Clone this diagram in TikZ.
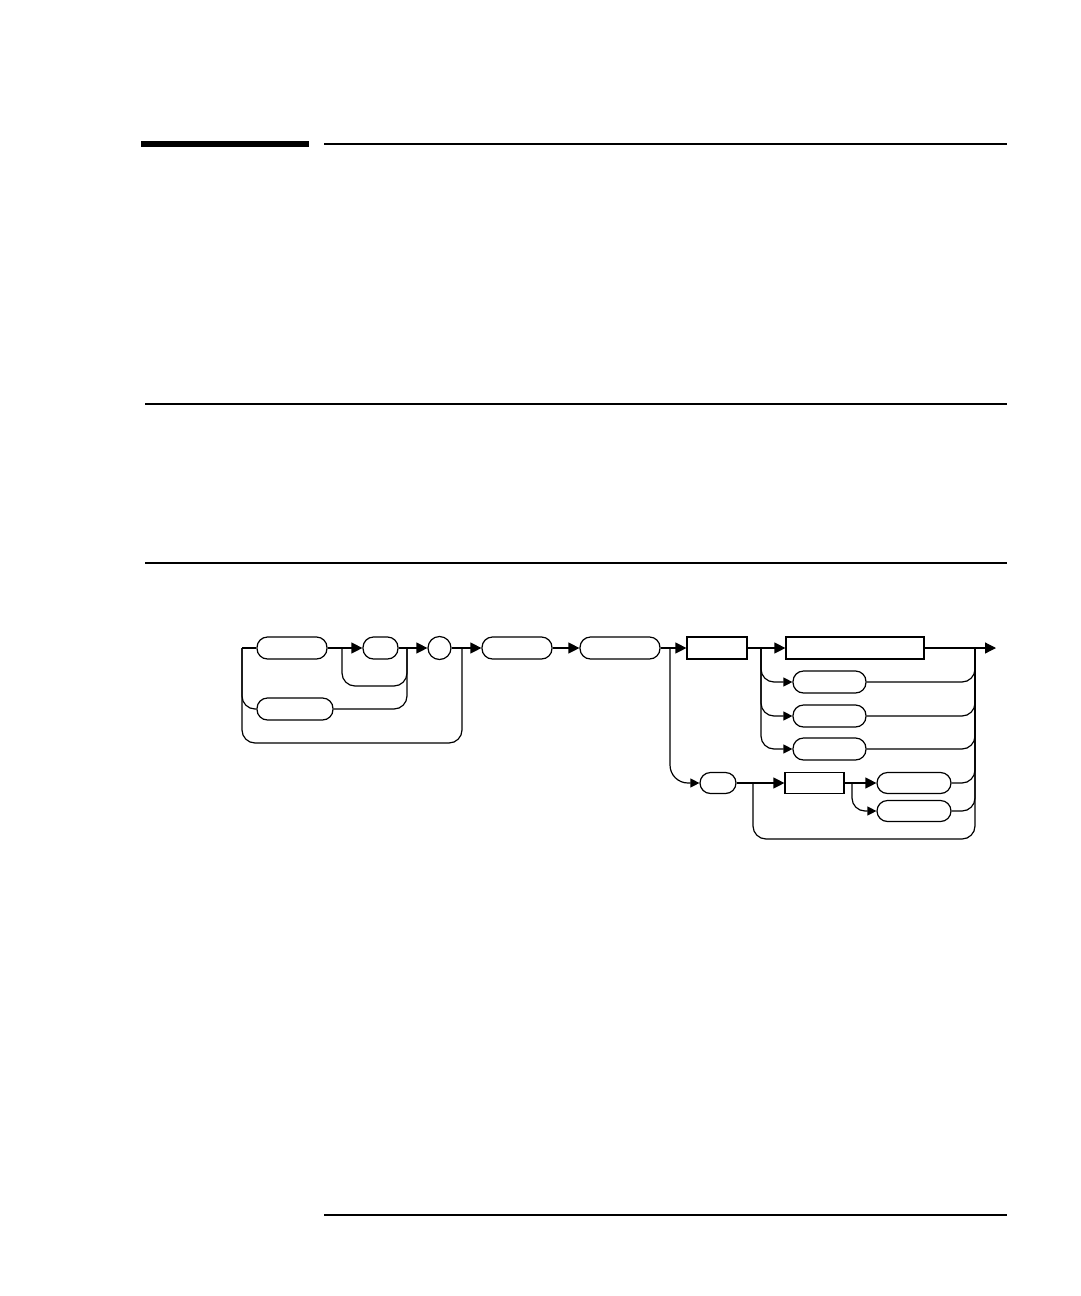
\documentclass[tikz,border=0pt]{standalone}
\usetikzlibrary{arrows.meta}
\begin{document}
\begin{tikzpicture}[x=1pt,y=-1pt,
  line width=1.2pt,
  rbox/.style={draw,rectangle,rounded corners=10.5pt,minimum height=22pt,inner sep=0pt},
  sbox/.style={draw,rectangle,minimum height=22pt,inner sep=0pt},
  cbox/.style={draw,circle,minimum size=23pt,inner sep=0pt},
  arr/.style={-{Triangle[length=11pt,width=11pt]}},
  sarr/.style={-{Triangle[length=9pt,width=9pt]}},
  conn/.style={rounded corners=13pt}]
\useasboundingbox (0,0) rectangle (1080,1296);
% page rules
\fill (141,141) rectangle (309,147);
\draw (324,144) -- (1007,144);
\draw (145,404) -- (1007,404);
\draw (145,563) -- (1007,563);
\draw (324,1215) -- (1007,1215);
% nodes
\node[rbox,minimum width=70pt] (A) at (292,648) {};
\node[rbox,minimum width=35pt] (B) at (380.5,648) {};
\node[rbox,minimum width=76pt] (C) at (295,709) {};
\node[cbox] (O) at (439.5,648) {};
\node[rbox,minimum width=70pt] (D) at (517,648) {};
\node[rbox,minimum width=80pt] (E) at (620,648) {};
\node[sbox,minimum width=60pt] (F) at (717,648) {};
\node[sbox,minimum width=138pt] (G) at (855,648) {};
\node[rbox,minimum width=73pt] (H1) at (829.5,682) {};
\node[rbox,minimum width=73pt] (H2) at (829.5,716) {};
\node[rbox,minimum width=73pt] (H3) at (829.5,749) {};
\node[rbox,minimum width=36pt,minimum height=21pt] (L) at (718,783) {};
\node[sbox,minimum width=59pt,minimum height=21pt] (I) at (814.5,783) {};
\node[rbox,minimum width=74pt,minimum height=21pt] (J1) at (914,783) {};
\node[rbox,minimum width=74pt,minimum height=21pt] (J2) at (914,811) {};
% coordinates
\coordinate (s) at (242,648);
\coordinate (b1) at (342,648);
\coordinate (b2) at (407,648);
\coordinate (b3) at (462,648);
\coordinate (b4) at (670,648);
\coordinate (b5) at (761,648);
\coordinate (r) at (975,648);
\coordinate (e) at (996,648);
\coordinate (b6) at (753,783);
\coordinate (b7) at (852,783);
% first section
\draw (s) -- (A.west);
\draw[arr] (A.east) -- (B.west);
\draw[conn] (b1) -- (342,686) -- (407,686) -- (b2);
\draw[arr] (B.east) -- (O.west);
\draw[conn] (s) |- (C.west);
\draw[conn] (C.east) -| (b2);
\draw[conn] (s) -- (242,743) -- (462,743) -- (b3);
\draw[arr] (O.east) -- (D.west);
\draw[arr] (D.east) -- (E.west);
\draw[arr] (E.east) -- (F.west);
\draw[arr] (F.east) -- (G.west);
\draw[arr] (G.east) -- (e);
% alternatives after F
\draw[sarr,conn] (b5) |- (H1.west);
\draw[sarr,conn] (b5) |- (H2.west);
\draw[sarr,conn] (b5) |- (H3.west);
\draw[conn] (H1.east) -| (r);
\draw[conn] (H2.east) -| (r);
\draw[conn] (H3.east) -| (r);
% lower path
\draw[sarr,rounded corners=18pt] (b4) |- (L.west);
\draw[arr] (L.east) -- (I.west);
\draw[arr] (I.east) -- (J1.west);
\draw[sarr,conn] (b7) |- (J2.west);
\draw[conn] (J1.east) -| (r);
\draw[conn] (J2.east) -| (r);
\draw[conn] (b6) -- (753,839) -- (975,839) -- (r);
\end{tikzpicture}
\end{document}
